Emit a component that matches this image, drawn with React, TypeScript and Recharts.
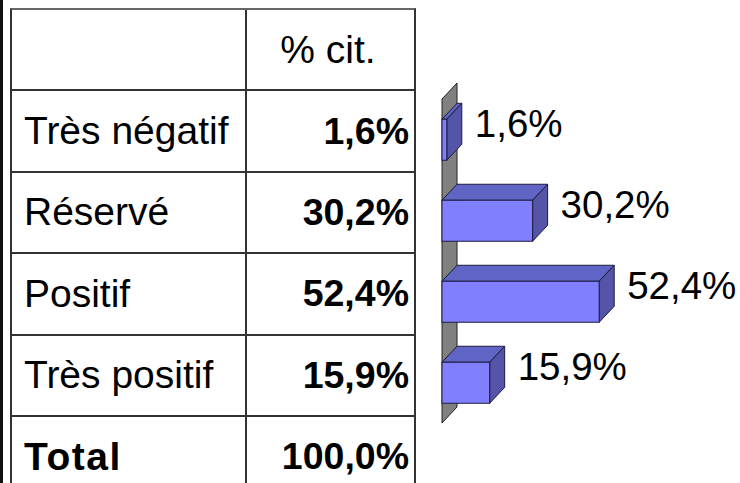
import React from 'react';
import { BarChart, Bar, XAxis, YAxis, ReferenceArea, LabelList } from 'recharts';

// data
const categories = ['Très négatif', 'Réservé', 'Positif', 'Très positif'];
const values = [1.6, 30.2, 52.4, 15.9];
const headerLabel = '% cit.';
const totalLabel = 'Total';
const totalValue = 100.0;
const axisMax = 60;

const data = categories.map((name, i) => ({ name, value: values[i] }));

const FONT = '"Liberation Sans", Arial, sans-serif';
const DX = 15;
const DY = 16;
const ROW_H = 81.4;

const fmt = (v: number) => `${v.toFixed(1).replace('.', ',')}%`;

// 3D-ish bar: front face, top face and right face
const Bar3D = (props: any) => {
  const { x, y, width, height } = props;
  if (width == null || height == null) return null;
  const stroke = '#1c1c3c';
  return (
    <g>
      <polygon
        points={`${x},${y} ${x + DX},${y - DY} ${x + width + DX},${y - DY} ${x + width},${y}`}
        fill="#6064c4"
        stroke={stroke}
        strokeWidth={1}
      />
      <polygon
        points={`${x + width},${y} ${x + width + DX},${y - DY} ${x + width + DX},${y + height - DY} ${x + width},${y + height}`}
        fill="#5454a8"
        stroke={stroke}
        strokeWidth={1}
      />
      <rect x={x} y={y} width={width} height={height} fill="#8080ff" stroke={stroke} strokeWidth={1} />
    </g>
  );
};

// grey back wall along the category axis
const Wall = (props: any) => {
  const { x, y, height } = props;
  return (
    <polygon
      points={`${x},${y} ${x + DX},${y - DY} ${x + DX},${y + height - DY} ${x},${y + height}`}
      fill="#808080"
      stroke="#222"
      strokeWidth={1}
    />
  );
};

const ValueLabel = (props: any) => {
  const { x, y, width, height, value } = props;
  return (
    <text
      x={x + width + DX + 13}
      y={y + height / 2 - DY}
      dominantBaseline="central"
      fontFamily={FONT}
      fontSize={38.5}
      fill="#000"
    >
      {fmt(value)}
    </text>
  );
};

const cellBase: React.CSSProperties = {
  boxSizing: 'border-box',
  height: '100%',
  display: 'flex',
  alignItems: 'center',
};

const Row = ({ left, right, bold, leftBold, center }: any) => (
  <div
    style={{
      boxSizing: 'border-box',
      height: ROW_H,
      borderBottom: '2px solid #333',
      display: 'flex',
    }}
  >
    <div
      style={{
        ...cellBase,
        width: 235,
        borderRight: '2px solid #333',
        paddingLeft: 12,
        fontWeight: leftBold ? 'bold' : 'normal',
        fontSize: 39,
        letterSpacing: leftBold ? 1.5 : 0,
      }}
    >
      {left}
    </div>
    <div
      style={{
        ...cellBase,
        flex: 1,
        justifyContent: center ? 'center' : 'flex-end',
        paddingRight: 5,
        fontWeight: bold ? 'bold' : 'normal',
        fontSize: bold ? 37.5 : 39,
      }}
    >
      {right}
    </div>
  </div>
);

const App: React.FC = () => {
  return (
    <div
      style={{
        position: 'absolute',
        left: 0,
        top: 0,
        width: 740,
        height: 483,
        overflow: 'hidden',
        background: '#fff',
        fontFamily: FONT,
        color: '#000',
      }}
    >
      <div style={{ position: 'absolute', left: 0, top: 0, width: 3, height: 483, background: '#111' }} />
      <div
        style={{
          position: 'absolute',
          left: 10,
          top: 8,
          width: 406,
          boxSizing: 'border-box',
          borderTop: '2px solid #666',
          borderLeft: '2px solid #333',
          borderRight: '2px solid #333',
        }}
      >
        <Row left="" right={headerLabel} center />
        {data.map((d) => (
          <Row key={d.name} left={d.name} right={fmt(d.value)} bold />
        ))}
        <Row left={totalLabel} right={fmt(totalValue)} bold leftBold />
      </div>
      <div style={{ position: 'absolute', left: 420, top: 0 }}>
        <BarChart
          width={320}
          height={483}
          data={data}
          layout="vertical"
          margin={{ top: 99, right: 118, bottom: 60, left: 22 }}
          barCategoryGap="25%"
        >
          <XAxis type="number" domain={[0, axisMax]} hide />
          <YAxis type="category" dataKey="name" hide />
          <ReferenceArea x1={0} x2={1} shape={<Wall />} />
          <Bar dataKey="value" shape={<Bar3D />} isAnimationActive={false}>
            <LabelList dataKey="value" content={<ValueLabel />} />
          </Bar>
        </BarChart>
      </div>
    </div>
  );
};

export default App;
